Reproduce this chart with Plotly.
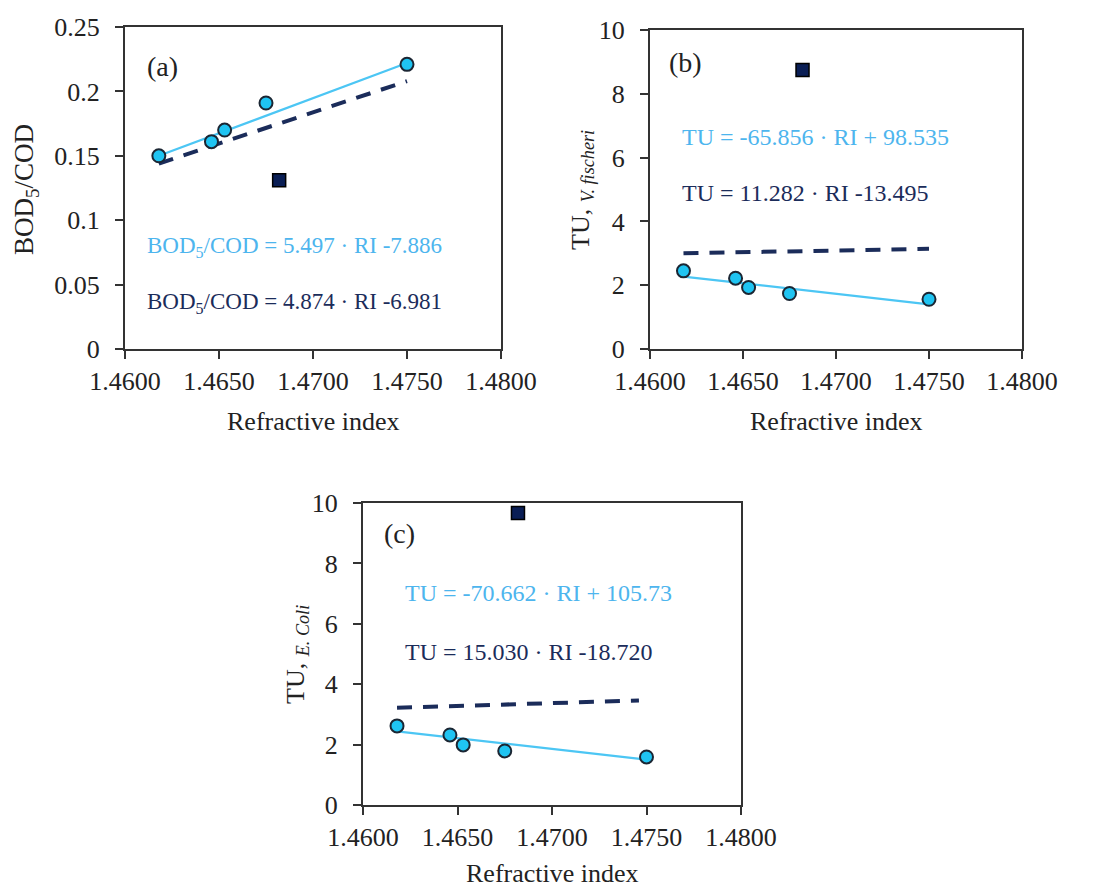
import plotly.graph_objects as go

# ---------------- data ----------------
ri_points = [1.4618, 1.4646, 1.4653, 1.4675, 1.4750]
ri_outlier = [1.4682]

bod_cod = [0.150, 0.161, 0.170, 0.191, 0.221]
bod_cod_outlier = [0.131]

tu_vfischeri = [2.45, 2.22, 1.93, 1.74, 1.56]
tu_vfischeri_outlier = [8.75]

tu_ecoli = [2.62, 2.32, 1.99, 1.79, 1.59]
tu_ecoli_outlier = [9.67]

# trend line end points
fit_x = [1.4618, 1.4750]
fit_a_light = [0.150, 0.222]
fit_a_dark = [0.144, 0.208]
fit_b_light = [2.27, 1.40]
fit_b_dark = [3.00, 3.14]
fit_c_x_dark = [1.4618, 1.4746]
fit_c_light = [2.44, 1.50]
fit_c_dark = [3.22, 3.46]

x_ticks = [1.46, 1.465, 1.47, 1.475, 1.48]
x_ticklabels = ["1.4600", "1.4650", "1.4700", "1.4750", "1.4800"]

eq_a = ["BOD<sub>5</sub>/COD = 5.497 · RI -7.886", "BOD<sub>5</sub>/COD = 4.874 · RI -6.981"]
eq_b = ["TU = -65.856 · RI + 98.535", "TU = 11.282 · RI -13.495"]
eq_c = ["TU = -70.662 · RI + 105.73", "TU = 15.030 · RI -18.720"]

# ---------------- style ----------------
W, H = 1101, 890
FONT = "Liberation Serif, Times New Roman, serif"
LIGHT_LINE = "#4CC6F4"
LIGHT_FILL = "#1FC4F2"
LIGHT_TEXT = "#4DB5EE"
DARK = "#1B2C5A"
DARK_FILL = "#0A1E55"
AXIS = "#333333"
TXT = "#222222"

def px_x(p):
    return p / W

def px_y(p):
    return 1 - p / H

fig = go.Figure()

panels = [
    ("", bod_cod, bod_cod_outlier, fit_a_light, fit_a_dark, fit_x),
    ("2", tu_vfischeri, tu_vfischeri_outlier, fit_b_light, fit_b_dark, fit_x),
    ("3", tu_ecoli, tu_ecoli_outlier, fit_c_light, fit_c_dark, fit_c_x_dark),
]

for suf, ys, yo, fl, fd, fdx in panels:
    xa, ya = "x" + suf, "y" + suf
    fig.add_trace(go.Scatter(x=fdx, y=fd, mode="lines", xaxis=xa, yaxis=ya,
                             line=dict(color=DARK, width=4, dash="15px,11px"),
                             showlegend=False, hoverinfo="skip"))
    fig.add_trace(go.Scatter(x=fit_x, y=fl, mode="lines", xaxis=xa, yaxis=ya,
                             line=dict(color=LIGHT_LINE, width=2.2),
                             showlegend=False, hoverinfo="skip"))
    fig.add_trace(go.Scatter(x=ri_points, y=ys, mode="markers", xaxis=xa, yaxis=ya,
                             marker=dict(symbol="circle", size=13, color=LIGHT_FILL,
                                         line=dict(color="#1b2633", width=2)),
                             showlegend=False))
    fig.add_trace(go.Scatter(x=ri_outlier, y=yo, mode="markers", xaxis=xa, yaxis=ya,
                             marker=dict(symbol="square", size=13, color=DARK_FILL,
                                         line=dict(color="#000000", width=1.5)),
                             showlegend=False))

common_x = dict(range=[1.46, 1.48], tickvals=x_ticks, ticktext=x_ticklabels,
                showline=True, linecolor=AXIS, linewidth=2, mirror=True,
                ticks="outside", ticklen=8, tickwidth=2, tickcolor=AXIS,
                showgrid=False, zeroline=False, automargin=False,
                tickfont=dict(family=FONT, size=26, color=TXT))
common_y = dict(showline=True, linecolor=AXIS, linewidth=2, mirror=True,
                ticks="outside", ticklen=8, tickwidth=2, tickcolor=AXIS,
                showgrid=False, zeroline=False, ticklabelstandoff=10, automargin=False,
                tickfont=dict(family=FONT, size=26, color=TXT))

# pixel boxes of the three plot areas: (left, right, top, bottom)
box_a = (125, 501, 27, 349)
box_b = (650, 1022, 30, 349)
box_c = (363, 741, 503, 805)

def dom(b):
    return [px_x(b[0]), px_x(b[1])], [px_y(b[3]), px_y(b[2])]

dxa, dya = dom(box_a)
dxb, dyb = dom(box_b)
dxc, dyc = dom(box_c)

fig.update_layout(
    width=W, height=H,
    margin=dict(l=0, r=0, t=0, b=0, autoexpand=False),
    paper_bgcolor="white", plot_bgcolor="white",
    font=dict(family=FONT, size=26, color=TXT),
    xaxis=dict(domain=dxa, anchor="y", **common_x),
    yaxis=dict(domain=dya, anchor="x", range=[0, 0.25],
               tickvals=[0, 0.05, 0.1, 0.15, 0.2, 0.25],
               ticktext=["0", "0.05", "0.1", "0.15", "0.2", "0.25"], **common_y),
    xaxis2=dict(domain=dxb, anchor="y2", **common_x),
    yaxis2=dict(domain=dyb, anchor="x2", range=[0, 10],
                tickvals=[0, 2, 4, 6, 8, 10], **common_y),
    xaxis3=dict(domain=dxc, anchor="y3", **common_x),
    yaxis3=dict(domain=dyc, anchor="x3", range=[0, 10],
                tickvals=[0, 2, 4, 6, 8, 10], **common_y),
)

def ann(text, x, y, color=TXT, size=26, angle=0, xanchor="left"):
    fig.add_annotation(text=text, x=px_x(x), y=px_y(y), xref="paper", yref="paper",
                       showarrow=False, xanchor=xanchor, yanchor="middle",
                       textangle=angle,
                       font=dict(family=FONT, size=size, color=color))

# panel labels
ann("(a)", 145, 66, size=28)
ann("(b)", 667, 62, size=28)
ann("(c)", 382, 533, size=28)

# equations
ann(eq_a[0], 145, 247, LIGHT_TEXT, 23)
ann(eq_a[1], 145, 303, DARK, 23)
ann(eq_b[0], 680, 137, LIGHT_TEXT, 24)
ann(eq_b[1], 680, 193, DARK, 24)
ann(eq_c[0], 403, 593, LIGHT_TEXT, 24)
ann(eq_c[1], 403, 652, DARK, 24)

# axis titles
ann("Refractive index", (box_a[0] + box_a[1]) / 2, 421, xanchor="center")
ann("Refractive index", (box_b[0] + box_b[1]) / 2, 421, xanchor="center")
ann("Refractive index", (box_c[0] + box_c[1]) / 2, 873, xanchor="center")
ann("BOD<sub>5</sub>/COD", 26, 190, size=27, angle=-90, xanchor="center")
ann("TU, <sub><i>V. fischeri</i></sub>", 582, 190, angle=-90, xanchor="center")
ann("TU, <sub><i>E. Coli</i></sub>", 297, 655, angle=-90, xanchor="center")

fig.write_html("out.html")
